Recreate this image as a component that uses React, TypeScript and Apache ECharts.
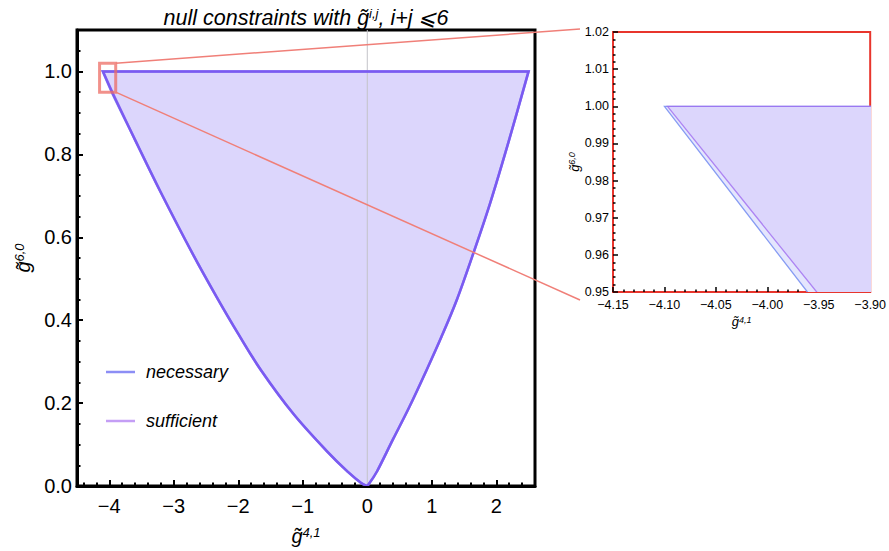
import React, { useEffect, useRef } from "react";
import * as echarts from "echarts";

// ---- axis ranges ----
const mainXRange = [-4.5, 2.6];
const mainYRange = [0, 1.1];
const zoomXRange = [-4.15, -3.9];
const zoomYRange = [0.95, 1.02];

// ---- region boundaries ----
// left (lower) boundary, from the top-left vertex down to the origin
const necessaryLeftX = [-4.1, -3.961, -3.6, -3.2, -2.7, -2.35, -2.0, -1.65, -1.14, -0.62, -0.3, -0.1, 0];
const necessaryLeftY = [1.0, 0.95, 0.835, 0.708, 0.558, 0.46, 0.367, 0.28, 0.173, 0.083, 0.034, 0.008, 0];
const sufficientLeftX = [-4.097, -3.952, -3.6, -3.2, -2.7, -2.35, -2.0, -1.65, -1.14, -0.62, -0.3, -0.1, 0];
const sufficientLeftY = [1.0, 0.95, 0.835, 0.708, 0.558, 0.46, 0.367, 0.28, 0.173, 0.083, 0.034, 0.008, 0];
// right boundary, from the origin up to the top-right vertex
const rightX = [0.15, 0.4, 0.65, 0.92, 1.15, 1.39, 1.63, 1.9, 2.19, 2.5];
const rightY = [0.035, 0.113, 0.19, 0.28, 0.36, 0.45, 0.555, 0.68, 0.83, 1.0];

const legendNames = ["necessary", "sufficient"];

const FONT = '"Liberation Sans", Arial, Helvetica, sans-serif';
const MAIN = { left: 77, top: 30, width: 458, height: 458 };
const INSET = { left: 613, top: 32, width: 261, height: 260 };

const zip = (xs: number[], ys: number[]) => xs.map((x, i) => [x, ys[i]]);
const f = (v: number) => v.toFixed(2);

// Catmull-Rom spline segments through pixel points p[start..end], as cubic Beziers
function splineSegs(p: number[][], start: number): string {
  let d = "";
  for (let i = start; i < p.length - 1; i++) {
    const p0 = p[i - 1] || p[i];
    const p1 = p[i];
    const p2 = p[i + 1];
    const p3 = p[i + 2] || p[i + 1];
    const c1 = [p1[0] + (p2[0] - p0[0]) / 6, p1[1] + (p2[1] - p0[1]) / 6];
    const c2 = [p2[0] - (p3[0] - p1[0]) / 6, p2[1] - (p3[1] - p1[1]) / 6];
    d += ` C ${f(c1[0])} ${f(c1[1])} ${f(c2[0])} ${f(c2[1])} ${f(p2[0])} ${f(p2[1])}`;
  }
  return d;
}

function regionSeries(leftX: number[], leftY: number[], idx: number, style: any, z: number) {
  const left = zip(leftX, leftY);
  const right = [left[left.length - 1], ...zip(rightX, rightY)];
  return {
    type: "custom",
    xAxisIndex: idx,
    yAxisIndex: idx,
    clip: true,
    silent: true,
    z,
    data: [...left, ...right],
    encode: { x: 0, y: 1 },
    renderItem: (params: any, api: any) => {
      if (params.dataIndex !== 0) return null;
      const L = left.map((p) => api.coord(p));
      const R = right.map((p) => api.coord(p));
      // short first segment straight, rest smooth; closing edge (top) straight
      let d = `M ${f(L[0][0])} ${f(L[0][1])} L ${f(L[1][0])} ${f(L[1][1])}`;
      d += splineSegs(L, 1);
      d += splineSegs(R, 0);
      d += " Z";
      return { type: "path", shape: { pathData: d }, style };
    },
  };
}

const richName = (big: number, small: number) => ({
  g: { fontSize: big, fontStyle: "italic", fontFamily: FONT, color: "#000" },
  s: { fontSize: small, fontStyle: "italic", fontFamily: FONT, color: "#000", verticalAlign: "top" },
});

export default function App() {
  const ref = useRef<HTMLDivElement>(null);
  useEffect(() => {
    if (!ref.current) return;
    const chart = echarts.init(ref.current, null, { renderer: "svg" });

    const mainTick = { inside: true, length: 6, lineStyle: { color: "#000", width: 2 } };
    const insetTick = { inside: true, length: 5, lineStyle: { color: "#000", width: 1.5 } };

    const option: any = {
      animation: false,
      grid: [
        { ...MAIN, show: true, borderColor: "#000", borderWidth: 3, backgroundColor: "transparent" },
        { ...INSET, show: true, borderColor: "#e8352c", borderWidth: 2, backgroundColor: "transparent" },
      ],
      xAxis: [
        {
          gridIndex: 0,
          type: "value",
          min: mainXRange[0],
          max: mainXRange[1],
          splitNumber: 7,
          axisLine: { show: true, onZero: false, lineStyle: { color: "#000", width: 3 } },
          axisTick: mainTick,
          minorTick: { show: true, splitNumber: 5, length: 3.5, lineStyle: { color: "#000", width: 2 } },
          splitLine: { show: false },
          axisLabel: {
            fontSize: 20,
            color: "#000",
            fontFamily: FONT,
            margin: 10,
            formatter: (v: number) => {
              const r = Math.round(v);
              if (Math.abs(v - r) > 1e-6) return "";
              return r < 0 ? "\u2212" + Math.abs(r) : String(r);
            },
          },
          name: "{g|g\u0303}{s|4,1}",
          nameLocation: "middle",
          nameGap: 40,
          nameTextStyle: { rich: richName(20, 13) },
        },
        {
          gridIndex: 1,
          type: "value",
          min: zoomXRange[0],
          max: zoomXRange[1],
          interval: 0.05,
          axisLine: { show: true, onZero: false, lineStyle: { color: "#e8352c", width: 2 } },
          axisTick: insetTick,
          minorTick: { show: true, splitNumber: 5, length: 2.5, lineStyle: { color: "#000", width: 1.5 } },
          splitLine: { show: false },
          axisLabel: {
            fontSize: 12.5,
            color: "#000",
            fontFamily: FONT,
            margin: 6,
            formatter: (v: number) => v.toFixed(2).replace("-", "\u2212"),
          },
          name: "{g|g\u0303}{s|4,1}",
          nameLocation: "middle",
          nameGap: 23,
          nameTextStyle: { rich: richName(13, 9) },
        },
      ],
      yAxis: [
        {
          gridIndex: 0,
          type: "value",
          min: mainYRange[0],
          max: mainYRange[1],
          splitNumber: 6,
          axisLine: { show: true, onZero: false, lineStyle: { color: "#000", width: 3 } },
          axisTick: mainTick,
          minorTick: { show: true, splitNumber: 4, length: 3.5, lineStyle: { color: "#000", width: 2 } },
          splitLine: { show: false },
          axisLabel: {
            fontSize: 20,
            color: "#000",
            fontFamily: FONT,
            margin: 5,
            formatter: (v: number) => {
              const k = v * 5;
              return Math.abs(k - Math.round(k)) < 1e-6 ? v.toFixed(1) : "";
            },
          },
          name: "{g|g\u0303}{s|6,0}",
          nameLocation: "middle",
          nameGap: 42,
          nameTextStyle: { rich: richName(20, 13) },
        },
        {
          gridIndex: 1,
          type: "value",
          min: zoomYRange[0],
          max: zoomYRange[1],
          interval: 0.01,
          axisLine: { show: true, onZero: false, lineStyle: { color: "#e8352c", width: 2 } },
          axisTick: insetTick,
          minorTick: { show: true, splitNumber: 5, length: 2.5, lineStyle: { color: "#000", width: 1.5 } },
          splitLine: { show: false },
          axisLabel: {
            fontSize: 12.5,
            color: "#000",
            fontFamily: FONT,
            margin: 4,
            formatter: (v: number) => v.toFixed(2),
          },
          name: "{g|g\u0303}{s|6,0}",
          nameLocation: "middle",
          nameGap: 32,
          nameTextStyle: { rich: richName(13, 9) },
        },
      ],
      series: [
        // main plot
        regionSeries(necessaryLeftX, necessaryLeftY, 0, { fill: "#e4e4fd", stroke: null }, 2),
        regionSeries(sufficientLeftX, sufficientLeftY, 0, { fill: "#dcd6fc", stroke: null }, 2),
        {
          type: "line",
          xAxisIndex: 0,
          yAxisIndex: 0,
          silent: true,
          z: 3,
          symbol: "none",
          data: [
            [0, mainYRange[0]],
            [0, mainYRange[1]],
          ],
          lineStyle: { color: "#c4c4c8", width: 1 },
        },
        regionSeries(necessaryLeftX, necessaryLeftY, 0, { fill: null, stroke: "#7e7ef5", lineWidth: 2.5 }, 4),
        regionSeries(sufficientLeftX, sufficientLeftY, 0, { fill: null, stroke: "rgba(122,84,240,0.85)", lineWidth: 2.5 }, 4),
        {
          type: "custom",
          xAxisIndex: 0,
          yAxisIndex: 0,
          silent: true,
          z: 5,
          data: [[zoomXRange[0], zoomYRange[1], zoomXRange[1], zoomYRange[0]]],
          encode: { x: [0, 2], y: [1, 3] },
          renderItem: (params: any, api: any) => {
            const a = api.coord([api.value(0), api.value(1)]);
            const b = api.coord([api.value(2), api.value(3)]);
            return {
              type: "rect",
              shape: { x: a[0], y: a[1], width: b[0] - a[0], height: b[1] - a[1] },
              style: { fill: null, stroke: "rgba(236,108,100,0.75)", lineWidth: 3 },
            };
          },
        },
        // inset
        regionSeries(necessaryLeftX, necessaryLeftY, 1, { fill: "#e4e6fd", stroke: null }, 2),
        regionSeries(sufficientLeftX, sufficientLeftY, 1, { fill: "#dcd6fc", stroke: null }, 2),
        regionSeries(necessaryLeftX, necessaryLeftY, 1, { fill: null, stroke: "#879cf3", lineWidth: 1.3 }, 4),
        regionSeries(sufficientLeftX, sufficientLeftY, 1, { fill: null, stroke: "rgba(160,110,240,0.8)", lineWidth: 1.3 }, 4),
      ],
    };
    chart.setOption(option);

    const tr = chart.convertToPixel({ gridIndex: 0 } as any, [zoomXRange[1], zoomYRange[1]]) as number[];
    const br = chart.convertToPixel({ gridIndex: 0 } as any, [zoomXRange[1], zoomYRange[0]]) as number[];
    const insetOuterLeft = INSET.left - 33;
    const connectorStyle = { stroke: "#f07f78", lineWidth: 1.5 };

    chart.setOption({
      graphic: [
        {
          type: "text",
          x: MAIN.left + MAIN.width / 2,
          y: 18,
          z: 100,
          style: {
            text: "{t|null constraints with g\u0303}{s|i,j}{t|, i+j \u2A7D6}",
            align: "center",
            verticalAlign: "middle",
            rich: {
              t: { fontSize: 21.5, fontStyle: "italic", fontFamily: FONT, fill: "#000" },
              s: { fontSize: 13, fontStyle: "italic", fontFamily: FONT, fill: "#000", verticalAlign: "top" },
            },
          },
        },
        {
          type: "line",
          z: 100,
          shape: { x1: tr[0], y1: tr[1], x2: insetOuterLeft, y2: INSET.top - 3 },
          style: connectorStyle,
        },
        {
          type: "line",
          z: 100,
          shape: { x1: br[0], y1: br[1], x2: insetOuterLeft, y2: INSET.top + INSET.height + 8 },
          style: connectorStyle,
        },
        {
          type: "line",
          z: 100,
          shape: { x1: 106, y1: 372, x2: 135, y2: 372 },
          style: { stroke: "#8c8ef5", lineWidth: 2.5 },
        },
        {
          type: "text",
          z: 100,
          x: 146,
          y: 372,
          style: {
            text: legendNames[0],
            fontSize: 18,
            fontStyle: "italic",
            fontFamily: FONT,
            fill: "#000",
            verticalAlign: "middle",
          },
        },
        {
          type: "line",
          z: 100,
          shape: { x1: 106, y1: 421, x2: 135, y2: 421 },
          style: { stroke: "#c49ef5", lineWidth: 2.5 },
        },
        {
          type: "text",
          z: 100,
          x: 146,
          y: 421,
          style: {
            text: legendNames[1],
            fontSize: 18,
            fontStyle: "italic",
            fontFamily: FONT,
            fill: "#000",
            verticalAlign: "middle",
          },
        },
      ],
    });

    return () => chart.dispose();
  }, []);

  return (
    <div
      ref={ref}
      style={{ position: "fixed", left: 0, top: 0, width: 889, height: 551, background: "#fff" }}
    />
  );
}
